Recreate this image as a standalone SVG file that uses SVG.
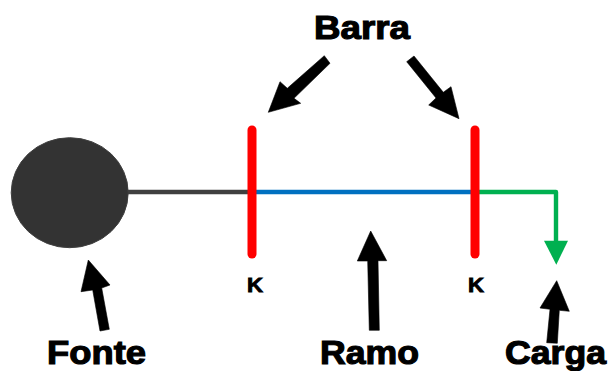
<svg xmlns="http://www.w3.org/2000/svg" width="609" height="371" viewBox="0 0 609 371">
<style>
.l{font-family:"Liberation Sans",Arial,sans-serif;font-weight:700;font-size:34px;fill:#000;stroke:#000;stroke-width:1.2px}
.k{font-size:20.5px;stroke-width:.9px}
.a{fill:#000;stroke:#000;stroke-width:.6px}
.bar{stroke:#f00;stroke-width:9;stroke-linecap:round;fill:none}
.w{fill:none;stroke-width:4.4}
</style>
<rect width="609" height="371" fill="#fff"/>
<g id="connectors">
<line class="w" x1="128" y1="192" x2="252" y2="192" stroke="#404040"/>
<line class="w" x1="252" y1="192" x2="475" y2="192" stroke="#0070c0"/>
<path class="w" d="M475 192H556V242" stroke="#00b050" stroke-linejoin="round"/>
<polygon points="544,240.7 568,240.7 556.3,264.7" fill="#00b050"/>
</g>
<g id="fonte"><ellipse cx="69.7" cy="192.7" rx="58.5" ry="55" fill="#333" stroke="#404040" stroke-width="1"/></g>
<g id="barra-1"><line class="bar" x1="252" y1="130" x2="252" y2="254"/></g>
<g id="barra-2"><line class="bar" x1="475" y1="130" x2="475" y2="254"/></g>
<g id="arrows">
<polygon class="a" points="324.3,55.7 330,63.3 294,98.3 300.7,103.3 268.3,112.3 280,81.7 287.3,88.3"/>
<polygon class="a" points="406.7,61.7 414,56 443.3,92.3 451,86.7 459,118.7 428.7,105 436,98"/>
<polygon class="a" points="88.3,260 110,285 101.7,288 109.3,329.3 100,331 92.7,290 81,291.7"/>
<polygon class="a" points="370.7,231 386.7,260.7 378,260.7 379.3,330.3 369.3,330.3 367.7,261 357.3,261"/>
<polygon class="a" points="556.7,280.7 569.3,311.3 559.3,310.3 557.3,343.3 546.7,342.7 550,309.3 540,308"/>
</g>
<g id="labels">
<text class="l" x="314" y="39" textLength="96" lengthAdjust="spacingAndGlyphs">Barra</text>
<text class="l" x="47" y="363.5" textLength="99" lengthAdjust="spacingAndGlyphs">Fonte</text>
<text class="l" x="320" y="363.5" textLength="99" lengthAdjust="spacingAndGlyphs">Ramo</text>
<text class="l" x="505" y="363.5" textLength="101" lengthAdjust="spacingAndGlyphs">Carga</text>
<text class="l k" x="247" y="291.5" textLength="16" lengthAdjust="spacingAndGlyphs">K</text>
<text class="l k" x="468" y="291.5" textLength="16" lengthAdjust="spacingAndGlyphs">K</text>
</g>
</svg>
